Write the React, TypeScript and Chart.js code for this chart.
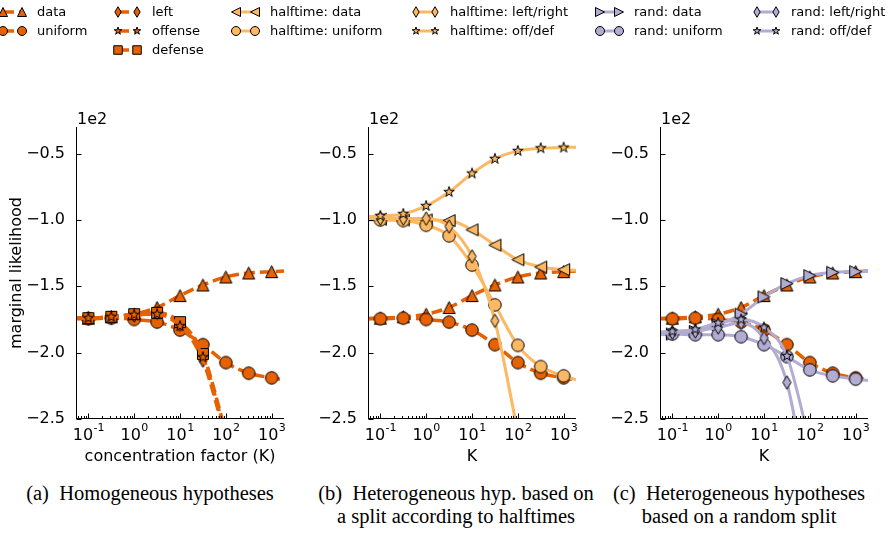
import React, { useEffect, useRef } from 'react';
import { Chart, registerables } from 'chart.js';
Chart.register(...registerables);

const FONT = '"DejaVu Sans", sans-serif';
const ORANGE = '#e66101';
const LIGHT = '#fdb863';
const LAV = '#b2abd2';

// concentration factor K values
const K = [0.1, 0.316, 1, 3.16, 10, 31.6, 100, 316, 1000];
const X_MIN = 0.0537;
const X_MAX = 1862;
const Y_MIN = -2.5;
const Y_MAX = -0.3;
const Y_TICKS = [-2.5, -2.0, -1.5, -1.0, -0.5];
const X_TICKS = [0.1, 1, 10, 100, 1000];
const X_TICK_BASE = '10';
const X_TICK_EXP = ['-1', '0', '1', '2', '3'];

// marginal likelihood values (units of 1e2)
const homData = [-1.74, -1.73, -1.71, -1.66, -1.57, -1.49, -1.43, -1.40, -1.39];
const homUniform = [-1.745, -1.74, -1.75, -1.77, -1.83, -1.94, -2.075, -2.155, -2.19];
const homLeft = [-1.74, -1.735, -1.72, -1.70, -1.79, -2.06, -2.64, null, null];
const homOffense = [-1.74, -1.73, -1.715, -1.71, -1.80, -2.035, -2.62, null, null];
const homDefense = [-1.74, -1.73, -1.71, -1.70, -1.77, -2.01, -2.60, null, null];

const htData = [-0.995, -1.0, -1.0, -1.005, -1.075, -1.19, -1.30, -1.355, -1.375];
const htUniform = [-1.0, -1.005, -1.04, -1.12, -1.34, -1.64, -1.945, -2.105, -2.175];
const htLeftRight = [-0.99, -0.99, -0.99, -1.05, -1.275, -1.76, -2.6, null, null];
const htOffDef = [-0.97, -0.955, -0.895, -0.79, -0.65, -0.54, -0.48, -0.46, -0.455];

const rdData = [-1.86, -1.84, -1.79, -1.71, -1.58, -1.48, -1.42, -1.395, -1.39];
const rdUniform = [-1.86, -1.865, -1.865, -1.88, -1.94, -2.03, -2.13, -2.175, -2.2];
const rdLeftRight = [-1.85, -1.84, -1.81, -1.775, -1.89, -2.225, -3.15, null, null];
const rdOffDef = [-1.84, -1.825, -1.775, -1.75, -1.81, -2.025, -2.68, null, null];

// line values at the left / right plot edges
const homDataEdges = [-1.742, -1.385];
const homUniformEdges = [-1.745, -2.205];
const homSplitEdges = [-1.74, null];
const htDataEdges = [-0.993, -1.38];
const htUniformEdges = [-1.0, -2.205];
const htLeftRightEdges = [-0.99, null];
const htOffDefEdges = [-0.975, -0.452];
const rdDataEdges = [-1.865, -1.388];
const rdUniformEdges = [-1.86, -2.21];
const rdLeftRightEdges = [-1.855, null];
const rdOffDefEdges = [-1.845, null];

type Shape = 'triUp' | 'triLeft' | 'triRight' | 'circle' | 'square' | 'thinDiamond' | 'star';

const CHART_SIZE: Record<Shape, number> = {
  triUp: 12, triLeft: 12, triRight: 12, circle: 12.5, square: 11, thinDiamond: 13.5, star: 11,
};
const LEGEND_SIZE: Record<Shape, number> = {
  triUp: 9, triLeft: 9, triRight: 9, circle: 9, square: 8.5, thinDiamond: 10.5, star: 8,
};

function pathMarker(ctx: CanvasRenderingContext2D, shape: Shape, cx: number, cy: number, s: number) {
  const h = s / 2;
  ctx.beginPath();
  switch (shape) {
    case 'triUp':
      ctx.moveTo(cx, cy - h); ctx.lineTo(cx + h, cy + h); ctx.lineTo(cx - h, cy + h); break;
    case 'triLeft':
      ctx.moveTo(cx - h, cy); ctx.lineTo(cx + h, cy - h); ctx.lineTo(cx + h, cy + h); break;
    case 'triRight':
      ctx.moveTo(cx + h, cy); ctx.lineTo(cx - h, cy - h); ctx.lineTo(cx - h, cy + h); break;
    case 'circle':
      ctx.arc(cx, cy, h, 0, Math.PI * 2); break;
    case 'square':
      ctx.rect(cx - h, cy - h, s, s); break;
    case 'thinDiamond':
      ctx.moveTo(cx, cy - h); ctx.lineTo(cx + h * 0.6, cy); ctx.lineTo(cx, cy + h); ctx.lineTo(cx - h * 0.6, cy); break;
    case 'star':
      for (let i = 0; i < 10; i++) {
        const a = -Math.PI / 2 + (i * Math.PI) / 5;
        const r = i % 2 === 0 ? h : h * 0.381966;
        const px = cx + r * Math.cos(a);
        const py = cy + r * Math.sin(a);
        if (i === 0) ctx.moveTo(px, py); else ctx.lineTo(px, py);
      }
      break;
  }
  ctx.closePath();
}

function drawMarker(ctx: CanvasRenderingContext2D, shape: Shape, cx: number, cy: number, s: number, fill: string) {
  pathMarker(ctx, shape, cx, cy, s);
  ctx.fillStyle = fill;
  ctx.fill();
  ctx.lineWidth = 1;
  ctx.strokeStyle = '#000';
  ctx.stroke();
}

const markerCache: Record<string, HTMLCanvasElement> = {};
function markerImage(shape: Shape, fill: string): HTMLCanvasElement {
  const key = shape + fill;
  if (markerCache[key]) return markerCache[key];
  const s = CHART_SIZE[shape];
  const dim = Math.ceil(s + 3);
  const c = document.createElement('canvas');
  c.width = dim; c.height = dim;
  const ctx = c.getContext('2d')!;
  drawMarker(ctx, shape, dim / 2, dim / 2, s, fill);
  markerCache[key] = c;
  return c;
}

interface Series { values: (number | null)[]; edges: (number | null)[]; color: string; dashed: boolean; shape: Shape; }

const homSeries: Series[] = [
  { values: homData, edges: homDataEdges, color: ORANGE, dashed: true, shape: 'triUp' },
  { values: homUniform, edges: homUniformEdges, color: ORANGE, dashed: true, shape: 'circle' },
  { values: homLeft, edges: homSplitEdges, color: ORANGE, dashed: true, shape: 'thinDiamond' },
  { values: homDefense, edges: homSplitEdges, color: ORANGE, dashed: true, shape: 'square' },
  { values: homOffense, edges: homSplitEdges, color: ORANGE, dashed: true, shape: 'star' },
];
const htSeries: Series[] = [
  { values: homData, edges: homDataEdges, color: ORANGE, dashed: true, shape: 'triUp' },
  { values: homUniform, edges: homUniformEdges, color: ORANGE, dashed: true, shape: 'circle' },
  { values: htData, edges: htDataEdges, color: LIGHT, dashed: false, shape: 'triLeft' },
  { values: htUniform, edges: htUniformEdges, color: LIGHT, dashed: false, shape: 'circle' },
  { values: htLeftRight, edges: htLeftRightEdges, color: LIGHT, dashed: false, shape: 'thinDiamond' },
  { values: htOffDef, edges: htOffDefEdges, color: LIGHT, dashed: false, shape: 'star' },
];
const rdSeries: Series[] = [
  { values: homData, edges: homDataEdges, color: ORANGE, dashed: true, shape: 'triUp' },
  { values: homUniform, edges: homUniformEdges, color: ORANGE, dashed: true, shape: 'circle' },
  { values: rdData, edges: rdDataEdges, color: LAV, dashed: false, shape: 'triRight' },
  { values: rdUniform, edges: rdUniformEdges, color: LAV, dashed: false, shape: 'circle' },
  { values: rdLeftRight, edges: rdLeftRightEdges, color: LAV, dashed: false, shape: 'thinDiamond' },
  { values: rdOffDef, edges: rdOffDefEdges, color: LAV, dashed: false, shape: 'star' },
];

// legend entries (column-major layout)
const legendLabels = [
  ['data', 'uniform'],
  ['left', 'offense', 'defense'],
  ['halftime: data', 'halftime: uniform'],
  ['halftime: left/right', 'halftime: off/def'],
  ['rand: data', 'rand: uniform'],
  ['rand: left/right', 'rand: off/def'],
];
const legendShapes: Shape[][] = [
  ['triUp', 'circle'],
  ['thinDiamond', 'star', 'square'],
  ['triLeft', 'circle'],
  ['thinDiamond', 'star'],
  ['triRight', 'circle'],
  ['thinDiamond', 'star'],
];
const legendColors = [ORANGE, ORANGE, LIGHT, LIGHT, LAV, LAV];
const legendDashed = [true, true, false, false, false, false];
const LEGEND_COL_X = [3, 118, 236, 416, 600, 757];
const LEGEND_ROW_Y = [12, 31, 50];

const CANVAS_TOP = 100;
const CANVAS_H = 370;

const axisDeco = {
  id: 'axisDeco',
  afterDraw(chart: any) {
    const { ctx, chartArea, scales } = chart;
    const { left, right, top, bottom } = chartArea;
    const x = scales.x; const y = scales.y;
    ctx.save();
    ctx.strokeStyle = '#000';
    ctx.lineWidth = 1;
    const L = Math.round(left) + 0.5;
    const B = Math.round(bottom) - 0.5;
    ctx.beginPath();
    ctx.moveTo(L, top); ctx.lineTo(L, B + 0.5);
    ctx.moveTo(L - 0.5, B); ctx.lineTo(right, B);
    for (const v of Y_TICKS) {
      const py = Math.round(y.getPixelForValue(v)) + 0.5;
      ctx.moveTo(L, py); ctx.lineTo(L + 5, py);
    }
    for (let e = -2; e <= 4; e++) {
      for (let m = 1; m < 10; m++) {
        const v = m * Math.pow(10, e);
        if (v < X_MIN || v > X_MAX) continue;
        const px = Math.round(x.getPixelForValue(v)) + 0.5;
        const len = m === 1 ? 5 : 2.5;
        ctx.moveTo(px, B); ctx.lineTo(px, B - len);
      }
    }
    ctx.stroke();
    ctx.fillStyle = '#000';
    ctx.textBaseline = 'alphabetic';
    ctx.textAlign = 'left';
    // x tick labels: 10 with superscript exponent
    const baseFont = '16px ' + FONT;
    const expFont = '11px ' + FONT;
    X_TICKS.forEach((v, i) => {
      const px = x.getPixelForValue(v);
      ctx.font = baseFont;
      const w1 = ctx.measureText(X_TICK_BASE).width;
      ctx.font = expFont;
      const w2 = ctx.measureText(X_TICK_EXP[i]).width;
      const x0 = px - (w1 + w2) / 2;
      ctx.font = baseFont;
      ctx.fillText(X_TICK_BASE, x0, bottom + 20.5);
      ctx.font = expFont;
      ctx.fillText(X_TICK_EXP[i], x0 + w1 + 0.5, bottom + 11.5);
    });
    ctx.font = '16px ' + FONT;
    ctx.fillText('1e2', left + 1, top - 3);
    ctx.restore();
  },
};

function fmtY(v: number) {
  return (v < 0 ? '\u2212' : '') + Math.abs(v).toFixed(1);
}

function buildConfig(series: Series[], yAxisWidth: number, rightPad: number, yTitle: string, xTitle: string): any {
  const datasets = series.map((s, i) => {
    const pts: any[] = [];
    if (s.edges[0] != null) pts.push({ x: X_MIN, y: s.edges[0], m: false });
    K.forEach((k, j) => {
      const v = s.values[j];
      if (v != null) pts.push({ x: k, y: v, m: true });
    });
    if (s.edges[1] != null) pts.push({ x: X_MAX, y: s.edges[1], m: false });
    return {
      data: pts,
      borderColor: s.color,
      backgroundColor: s.color,
      borderWidth: s.dashed ? 3.5 : 3,
      borderDash: s.dashed ? [11, 5] : [],
      borderCapStyle: 'butt',
      cubicInterpolationMode: 'monotone',
      pointStyle: markerImage(s.shape, s.color),
      pointRadius: (c: any) => (c.raw && c.raw.m ? 6 : 0),
      pointHoverRadius: 0,
      fill: false,
      clip: 0,
      order: -i,
    };
  });
  return {
    type: 'line',
    data: { datasets },
    options: {
      responsive: false,
      maintainAspectRatio: false,
      animation: false,
      events: [],
      layout: { padding: { left: 0, right: rightPad, top: 27, bottom: 0 } },
      plugins: { legend: { display: false }, tooltip: { enabled: false } },
      scales: {
        x: {
          type: 'logarithmic',
          min: X_MIN,
          max: X_MAX,
          grid: { display: false },
          border: { display: false },
          afterBuildTicks: (sc: any) => { sc.ticks = X_TICKS.map((v) => ({ value: v })); },
          afterFit: (sc: any) => { sc.height = 51; },
          ticks: { display: false },
          title: { display: true, text: xTitle, font: { size: 16, family: FONT }, color: '#000', padding: { top: 0, bottom: 4 } },
        },
        y: {
          type: 'linear',
          min: Y_MIN,
          max: Y_MAX,
          grid: { display: false },
          border: { display: false },
          afterBuildTicks: (sc: any) => { sc.ticks = Y_TICKS.map((v) => ({ value: v })); },
          afterFit: (sc: any) => { sc.width = yAxisWidth; },
          ticks: { padding: 3, font: { size: 16, family: FONT }, color: '#000', callback: (v: any) => fmtY(Number(v)) },
          title: { display: !!yTitle, text: yTitle, font: { size: 16, family: FONT }, color: '#000', padding: { top: 7, bottom: 0 } },
        },
      },
    },
    plugins: [axisDeco],
  };
}

function Panel(props: { left: number; width: number; yAxisWidth: number; rightPad: number; series: Series[]; yTitle: string; xTitle: string }) {
  const ref = useRef<HTMLCanvasElement>(null);
  useEffect(() => {
    const chart = new Chart(ref.current!, buildConfig(props.series, props.yAxisWidth, props.rightPad, props.yTitle, props.xTitle));
    return () => chart.destroy();
  }, []);
  return (
    <canvas
      ref={ref}
      width={props.width}
      height={CANVAS_H}
      style={{ position: 'absolute', left: props.left, top: CANVAS_TOP, width: props.width, height: CANVAS_H }}
    />
  );
}

function LegendHandles() {
  const ref = useRef<HTMLCanvasElement>(null);
  useEffect(() => {
    const ctx = ref.current!.getContext('2d')!;
    ctx.clearRect(0, 0, 888, 62);
    legendLabels.forEach((col, ci) => {
      col.forEach((_lab, ri) => {
        const x0 = LEGEND_COL_X[ci];
        const yy = LEGEND_ROW_Y[ri];
        ctx.save();
        ctx.strokeStyle = legendColors[ci];
        ctx.lineWidth = legendDashed[ci] ? 3.5 : 3;
        ctx.setLineDash(legendDashed[ci] ? [11, 5] : []);
        ctx.beginPath();
        ctx.moveTo(x0, yy); ctx.lineTo(x0 + 19, yy);
        ctx.stroke();
        ctx.restore();
        const shape = legendShapes[ci][ri];
        drawMarker(ctx, shape, x0, yy, LEGEND_SIZE[shape], legendColors[ci]);
        drawMarker(ctx, shape, x0 + 19, yy, LEGEND_SIZE[shape], legendColors[ci]);
      });
    });
  }, []);
  return <canvas ref={ref} width={888} height={62} style={{ position: 'absolute', left: 0, top: 0, width: 888, height: 62 }} />;
}

const captionStyle: React.CSSProperties = {
  position: 'absolute',
  fontFamily: '"Liberation Serif", "Times New Roman", serif',
  fontSize: 20.5,
  lineHeight: '23px',
  color: '#000',
  textAlign: 'center',
  whiteSpace: 'nowrap',
  transform: 'translateX(-50%)',
};

export default function App() {
  return (
    <div style={{ position: 'fixed', left: 0, top: 0, width: 888, height: 534, background: '#fff', overflow: 'hidden' }}>
      <LegendHandles />
      {legendLabels.map((col, ci) =>
        col.map((lab, ri) => (
          <span
            key={ci + '-' + ri}
            style={{
              position: 'absolute', left: LEGEND_COL_X[ci] + 34, top: LEGEND_ROW_Y[ri] - 8,
              fontFamily: FONT, fontSize: 13, lineHeight: '16px', color: '#000', whiteSpace: 'nowrap',
            }}
          >
            {lab}
          </span>
        ))
      )}
      <Panel left={0} width={296} yAxisWidth={76} rightPad={12} series={homSeries} yTitle="marginal likelihood" xTitle="concentration factor (K)" />
      <Panel left={296} width={292} yAxisWidth={72} rightPad={12} series={htSeries} yTitle="" xTitle="K" />
      <Panel left={588} width={300} yAxisWidth={72} rightPad={20} series={rdSeries} yTitle="" xTitle="K" />
      <div style={{ ...captionStyle, left: 150, top: 482 }}>(a)&nbsp; Homogeneous hypotheses</div>
      <div style={{ ...captionStyle, left: 456, top: 482 }}>
        (b)&nbsp; Heterogeneous hyp. based on<br />a split according to halftimes
      </div>
      <div style={{ ...captionStyle, left: 739, top: 482 }}>
        (c)&nbsp; Heterogeneous hypotheses<br />based on a random split
      </div>
    </div>
  );
}
